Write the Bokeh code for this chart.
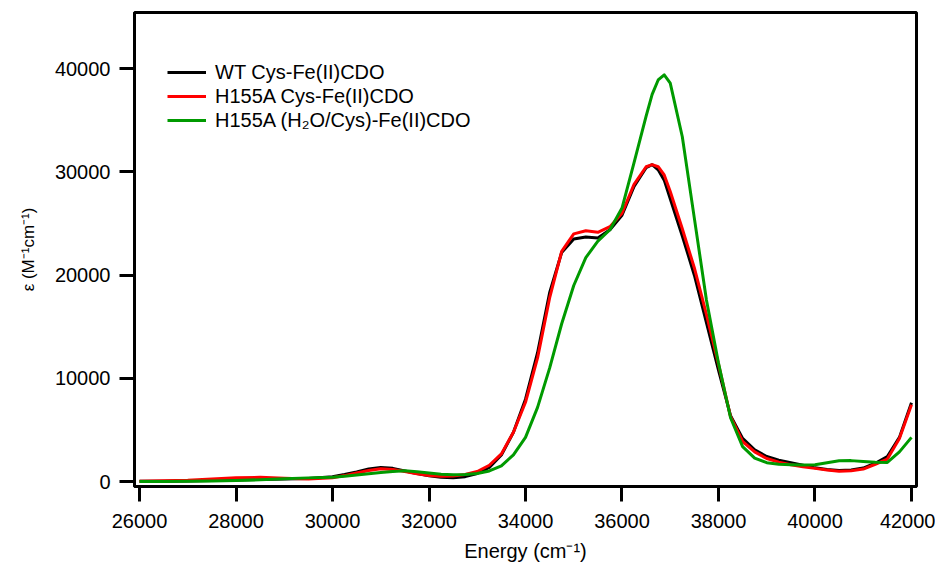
from bokeh.plotting import figure
from bokeh.models import Range1d, FixedTicker, Legend, LegendItem
from bokeh.embed import file_html
from bokeh.resources import INLINE

energy = [26000, 26500, 27000, 27500, 28000, 28500, 29000, 29500, 30000, 30250,
          30500, 30750, 31000, 31250, 31500, 31750, 32000, 32250, 32500, 32750,
          33000, 33250, 33500, 33750, 34000, 34250, 34500, 34750, 35000, 35250,
          35500, 35750, 36000, 36250, 36500, 36625, 36750, 36875, 37000, 37250,
          37500, 37750, 38000, 38250, 38500, 38750, 39000, 39250, 39500, 39750,
          40000, 40250, 40500, 40750, 41000, 41250, 41500, 41750, 42000]

wt_cys = [50, 60, 80, 120, 180, 230, 280, 330, 480, 700,
          950, 1250, 1390, 1300, 1050, 800, 580, 430, 390, 500,
          800, 1400, 2600, 4800, 8000, 12500, 18300, 22200, 23500, 23700,
          23600, 24400, 25800, 28600, 30400, 30700, 30200, 29200, 27400, 23800,
          20000, 15400, 10800, 6400, 4200, 3100, 2450, 2100, 1850, 1600,
          1350, 1200, 1100, 1150, 1330, 1800, 2450, 4300, 7650]

h155a_cys = [50, 90, 150, 280, 400, 430, 340, 280, 400, 600,
             850, 1100, 1260, 1200, 1000, 780, 600, 530, 560, 700,
             1000, 1600, 2700, 4800, 7700, 12000, 17800, 22300, 24000, 24300,
             24150, 24700, 26000, 28800, 30500, 30700, 30500, 29700, 28100, 24500,
             20700, 16200, 11400, 6300, 3900, 2900, 2250, 1900, 1650, 1450,
             1300, 1150, 1030, 1080, 1230, 1700, 2200, 4200, 7450]

h155a_h2o = [30, 40, 50, 80, 120, 200, 300, 380, 450, 540,
             650, 780, 900, 1000, 1060, 980, 850, 740, 680, 700,
             800, 1050, 1550, 2600, 4300, 7200, 11000, 15300, 19000, 21700,
             23300, 24400, 26500, 30900, 35400, 37500, 38900, 39400, 38600, 33400,
             25500, 17600, 11500, 6200, 3400, 2300, 1850, 1700, 1650, 1620,
             1650, 1850, 2030, 2050, 1970, 1900, 1870, 2900, 4300]

labels = ["WT Cys-Fe(II)CDO", "H155A Cys-Fe(II)CDO", "H155A (H\u2082O/Cys)-Fe(II)CDO"]
colors = ["#000000", "#FF0000", "#009A00"]
x_ticks = [26000, 28000, 30000, 32000, 34000, 36000, 38000, 40000, 42000]
y_ticks = [0, 10000, 20000, 30000, 40000]

p = figure(width=935, height=564, output_backend="svg", toolbar_location=None,
           x_range=Range1d(25896, 42104), y_range=Range1d(-455, 45430),
           min_border_left=134, min_border_right=19, min_border_top=12,
           min_border_bottom=77)
p.background_fill_color = "white"
p.border_fill_color = "white"
p.grid.visible = False
p.outline_line_color = "black"
p.outline_line_width = 3

font = "Liberation Sans"
for ax in (p.xaxis[0], p.yaxis[0]):
    ax.axis_line_width = 3
    ax.axis_line_color = "black"
    ax.major_tick_line_width = 3
    ax.major_tick_out = 15
    ax.major_tick_in = 0
    ax.minor_tick_line_color = None
    ax.major_label_text_font = font
    ax.major_label_text_font_size = "20px"
    ax.major_label_text_color = "black"
    ax.axis_label_text_font = font
    ax.axis_label_text_font_style = "normal"
    ax.axis_label_text_color = "black"

p.xaxis.ticker = FixedTicker(ticks=x_ticks)
p.yaxis.ticker = FixedTicker(ticks=y_ticks)
p.xaxis.major_label_standoff = 12
p.yaxis.major_label_standoff = 9
p.xaxis.axis_label = "Energy (cm\u207b\u00b9)"
p.xaxis.axis_label_text_font_size = "20px"
p.xaxis.axis_label_standoff = 9
p.yaxis.axis_label = "\u03b5 (M\u207b\u00b9cm\u207b\u00b9)"
p.yaxis.axis_label_text_font_size = "17px"
p.yaxis.axis_label_standoff = 14

series = [wt_cys, h155a_cys, h155a_h2o]
items = []
for ys, lab, col in zip(series, labels, colors):
    r = p.line(energy, ys, line_color=col, line_width=3, line_join="round")
    items.append(LegendItem(label=lab, renderers=[r]))

legend = Legend(items=items, location=(33, 354), padding=0, margin=0,
                glyph_width=39, glyph_height=24, label_height=24, spacing=0,
                label_standoff=9, border_line_alpha=0, background_fill_alpha=0,
                label_text_font=font, label_text_font_size="20px",
                label_text_color="black")
p.add_layout(legend, "center")

open("out.html", "w").write(file_html(p, INLINE))
